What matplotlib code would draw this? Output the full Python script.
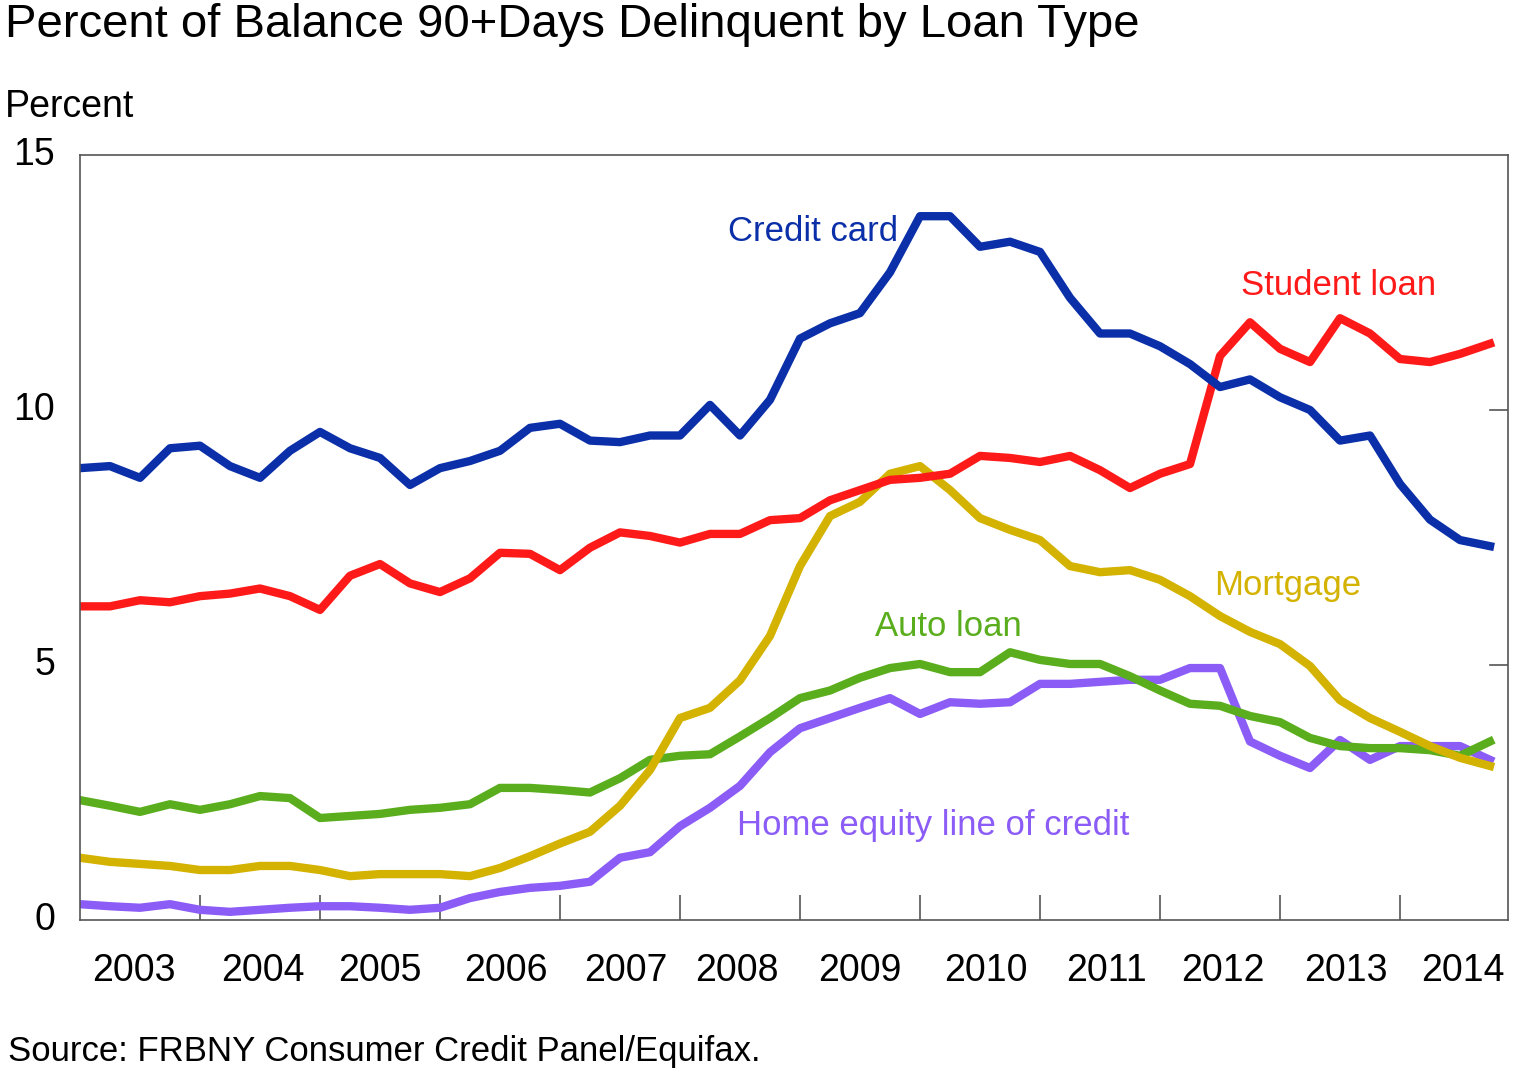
import numpy as np
import matplotlib.pyplot as plt

years = [str(y) for y in range(2003, 2015)]
credit_card = [8.86, 8.9, 8.67, 9.25, 9.3, 8.9, 8.67, 9.2, 9.57, 9.25, 9.06, 8.53,
               8.86, 9.0, 9.2, 9.65, 9.73, 9.4, 9.37, 9.5, 9.5, 10.1, 9.5, 10.2,
               11.4, 11.7, 11.9, 12.7, 13.8, 13.8, 13.2, 13.3, 13.1, 12.2, 11.5, 11.5,
               11.25, 10.9, 10.45, 10.6, 10.25, 10.0, 9.4, 9.5, 8.55, 7.85, 7.45, 7.33]
student_loan = [6.15, 6.15, 6.27, 6.23, 6.35, 6.4, 6.5, 6.35, 6.08, 6.75, 6.98, 6.6,
                6.43, 6.7, 7.2, 7.18, 6.86, 7.3, 7.6, 7.53, 7.4, 7.57, 7.57, 7.84,
                7.88, 8.23, 8.43, 8.63, 8.67, 8.75, 9.1, 9.06, 8.98, 9.1, 8.82, 8.47,
                8.75, 8.94, 11.06, 11.72, 11.2, 10.94, 11.8, 11.5, 11.0, 10.94, 11.1, 11.3]
mortgage = [1.22, 1.14, 1.1, 1.06, 0.98, 0.98, 1.06, 1.06, 0.98, 0.86, 0.9, 0.9,
            0.9, 0.86, 1.02, 1.25, 1.5, 1.73, 2.24, 2.94, 3.96, 4.16, 4.7, 5.57,
            6.94, 7.92, 8.2, 8.75, 8.9, 8.43, 7.88, 7.65, 7.45, 6.94, 6.82, 6.86,
            6.67, 6.35, 5.96, 5.65, 5.41, 4.98, 4.31, 3.96, 3.69, 3.41, 3.18, 3.02]
auto_loan = [2.35, 2.24, 2.12, 2.27, 2.16, 2.27, 2.43, 2.39, 2.0, 2.04, 2.08, 2.16,
             2.2, 2.27, 2.59, 2.59, 2.55, 2.5, 2.78, 3.14, 3.22, 3.25, 3.6, 3.96,
             4.35, 4.5, 4.75, 4.94, 5.02, 4.86, 4.86, 5.25, 5.1, 5.02, 5.02, 4.78,
             4.5, 4.24, 4.2, 4.0, 3.88, 3.57, 3.41, 3.37, 3.37, 3.33, 3.22, 3.5]
heloc = [0.31, 0.27, 0.24, 0.31, 0.2, 0.16, 0.2, 0.24, 0.27, 0.27, 0.24, 0.2,
         0.24, 0.43, 0.55, 0.63, 0.67, 0.75, 1.22, 1.33, 1.84, 2.2, 2.63, 3.29,
         3.76, 3.96, 4.16, 4.35, 4.04, 4.27, 4.24, 4.27, 4.63, 4.63, 4.67, 4.71,
         4.71, 4.94, 4.94, 3.5, 3.22, 2.98, 3.53, 3.14, 3.41, 3.41, 3.41, 3.14]

plt.rcParams['font.family'] = 'Liberation Sans'
fig = plt.figure(figsize=(15.13, 10.8), dpi=100)
ax = fig.add_axes([80/1513, 1 - 920/1080, 1428/1513, 765/1080])
x = np.arange(len(credit_card))

ax.plot(x, heloc, color='#8b5cf6', lw=6)
ax.plot(x, auto_loan, color='#5aad1c', lw=6)
ax.plot(x, mortgage, color='#d4b200', lw=6)
ax.plot(x, student_loan, color='#ff1a1a', lw=6)
ax.plot(x, credit_card, color='#0a2fa8', lw=6)

ax.set_xlim(0, 47.6)
ax.set_ylim(0, 15)
ax.set_yticks([0, 5, 10, 15])
ax.set_yticklabels(['0', '5', '10', '15'], fontsize=27)
ax.tick_params(axis='y', length=0, pad=18)
for lbl in ax.get_yticklabels():
    lbl.set_verticalalignment('center')
for yv in [5, 10]:
    ax.plot([47.0, 47.6], [yv, yv], color='#555555', lw=1.2)
ax.set_xticks(np.arange(4, 47, 4))
ax.set_xticklabels([])
ax.tick_params(axis='x', direction='in', length=18, width=1.2, color='#555555')
centers = [1.8, 6.1, 10.0, 14.2, 18.2, 21.9, 26.0, 30.2, 34.2, 38.1, 42.2, 46.1]
for c, yr in zip(centers, years):
    ax.text(c, -1.0, yr, ha='center', va='center', fontsize=27)
for s in ax.spines.values():
    s.set_color('#555555')
    s.set_linewidth(1.2)

ax.text(21.6, 13.5, 'Credit card', color='#0a2fa8', fontsize=25, va='center')
ax.text(38.7, 12.45, 'Student loan', color='#ff1a1a', fontsize=25, va='center')
ax.text(37.8, 6.55, 'Mortgage', color='#d4b200', fontsize=25, va='center')
ax.text(26.5, 5.75, 'Auto loan', color='#5aad1c', fontsize=25, va='center')
ax.text(21.9, 1.85, 'Home equity line of credit', color='#8b5cf6', fontsize=25, va='center')

fig.text(5/1513, 1 - 25/1080, 'Percent of Balance 90+Days Delinquent by Loan Type', fontsize=34, va='center')
fig.text(5/1513, 1 - 107/1080, 'Percent', fontsize=27, va='center')
fig.text(8/1513, 1 - 1052/1080, 'Source: FRBNY Consumer Credit Panel/Equifax.', fontsize=25, va='center')

fig.savefig('out.png', dpi=100)
